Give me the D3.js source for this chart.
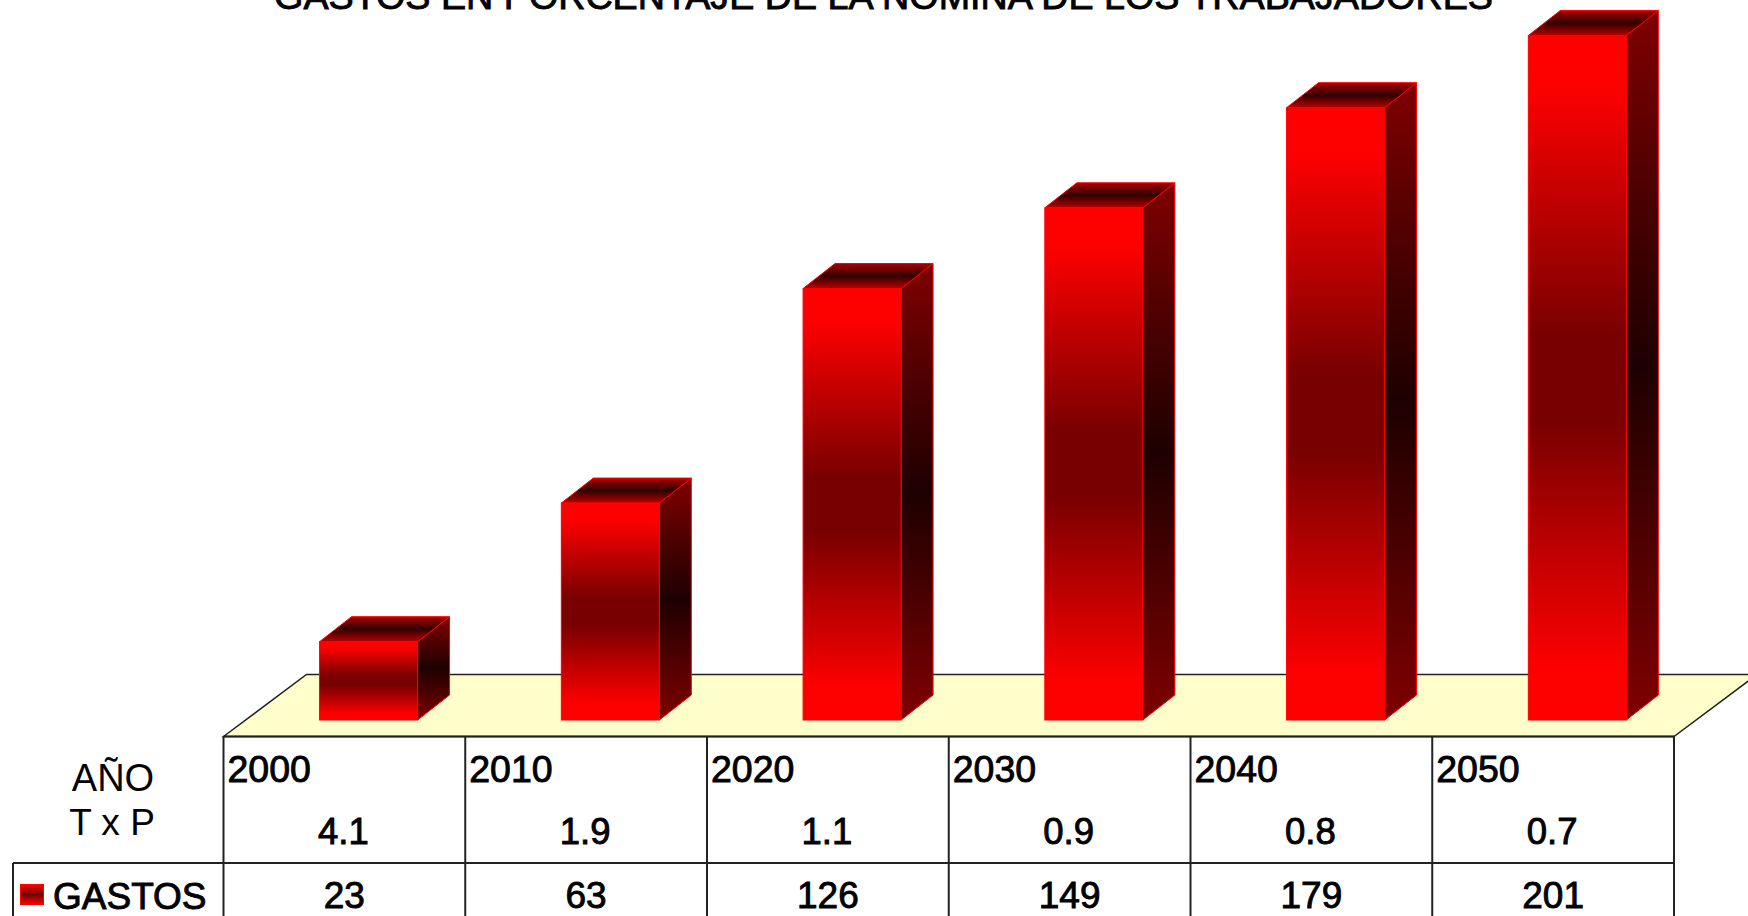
<!DOCTYPE html>
<html>
<head>
<meta charset="utf-8">
<script src="https://cdn.jsdelivr.net/npm/d3@7"></script>
<style>
  html, body { margin: 0; padding: 0; background: #fff; overflow: hidden; }
  text { font-family: "Liberation Sans", Arial, sans-serif; fill: #000; }
  .heavy { stroke: #000; stroke-width: 0.9; }
</style>
</head>
<body>
<div id="chart"></div>
<script>
const titleText = "GASTOS EN PORCENTAJE DE LA NOMINA DE LOS TRABAJADORES";
const years = ["2000", "2010", "2020", "2030", "2040", "2050"];
const txp = ["4.1", "1.9", "1.1", "0.9", "0.8", "0.7"];
const gastos = [23, 63, 126, 149, 179, 201];
// heights, they differ a little from the table
const barValues = [23, 63.7, 126.7, 150.4, 179.8, 201];

const width = 1748, height = 916;
const tableLeft = 223.5, tableRight = 1674, tableTop = 736.5, rowLine = 863, legendLeft = 13;
const floorDx = 83, floorDy = 62;
const barBase = 720, barDx = 32, barDy = 25, barOffset = 24.2, barWidth = 98;

const svg = d3.select("#chart").append("svg")
  .attr("width", width)
  .attr("height", height)
  .style("display", "block");

// Gradients
const defs = svg.append("defs");
function addGradient(id, stops) {
  const g = defs.append("linearGradient").attr("id", id)
    .attr("x1", 0).attr("y1", 0).attr("x2", 0).attr("y2", 1);
  stops.forEach((s) => g.append("stop").attr("offset", s[0]).attr("stop-color", s[1]));
}
addGradient("frontFill", [[0, "#ff0000"], [0.08, "#fc0000"], [0.44, "#780000"], [0.56, "#780000"], [0.92, "#fc0000"], [1, "#ff0000"]]);
addGradient("sideFill", [[0, "#800000"], [0.5, "#1e0000"], [1, "#800000"]]);
addGradient("topFill", [[0, "#a80000"], [0.5, "#300000"], [1, "#b80000"]]);
addGradient("legendFill", [[0, "#ff0000"], [0.5, "#700000"], [1, "#ff0000"]]);

// Scales
const x = d3.scaleBand().domain(years).range([tableLeft, tableRight]);
const y = d3.scaleLinear().domain([0, 201]).range([barBase, 35.5]);

// Floor
svg.append("path")
  .attr("d", d3.line()([
    [tableLeft, tableTop],
    [tableLeft + floorDx, tableTop - floorDy],
    [tableRight + floorDx, tableTop - floorDy],
    [tableRight, tableTop]
  ]) + "Z")
  .attr("fill", "#ffffcc")
  .attr("stroke", "#222")
  .attr("stroke-width", 1.5);

// Bars
const bars = svg.selectAll(".bar")
  .data(years.map((year, i) => ({ year, value: barValues[i] })))
  .join("g")
  .attr("class", "bar");

const faceLine = d3.line();
function barLeft(d) {
  return x(d.year) + x.bandwidth() / 2 + barOffset - barWidth / 2;
}

bars.append("path")
  .attr("fill", "url(#sideFill)")
  .attr("stroke", "#ff0000")
  .attr("d", (d) => {
    const r = barLeft(d) + barWidth;
    return faceLine([[r, barBase], [r, y(d.value)], [r + barDx, y(d.value) - barDy], [r + barDx, barBase - barDy]]) + "Z";
  });

bars.append("path")
  .attr("fill", "url(#topFill)")
  .attr("stroke", "#ff0000")
  .attr("d", (d) => {
    const l = barLeft(d), r = l + barWidth, t = y(d.value);
    return faceLine([[l, t], [l + barDx, t - barDy], [r + barDx, t - barDy], [r, t]]) + "Z";
  });

bars.append("rect")
  .attr("x", barLeft)
  .attr("y", (d) => y(d.value))
  .attr("width", barWidth)
  .attr("height", (d) => barBase - y(d.value))
  .attr("fill", "url(#frontFill)")
  .attr("stroke", "#ff0000");

// Title, the top of it is cut by the page edge like in the picture
svg.append("text")
  .attr("class", "heavy")
  .attr("x", 883.5)
  .attr("y", 9)
  .attr("text-anchor", "middle")
  .attr("font-size", 37.7)
  .text(titleText);

// Table lines
const tableLines = svg.append("g").attr("stroke", "#222").attr("stroke-width", 2);
tableLines.append("line").attr("x1", tableLeft).attr("x2", tableRight).attr("y1", tableTop).attr("y2", tableTop);
tableLines.append("line").attr("x1", legendLeft).attr("x2", tableRight).attr("y1", rowLine).attr("y2", rowLine);
tableLines.append("line").attr("x1", legendLeft).attr("x2", legendLeft).attr("y1", rowLine).attr("y2", height);
tableLines.selectAll(".col")
  .data(years.concat("end"))
  .join("line")
  .attr("class", "col")
  .attr("x1", (d, i) => (i < years.length ? x(d) : tableRight))
  .attr("x2", (d, i) => (i < years.length ? x(d) : tableRight))
  .attr("y1", tableTop)
  .attr("y2", height);

// Table text
svg.selectAll(".year")
  .data(years)
  .join("text")
  .attr("class", "year heavy")
  .attr("x", (d) => x(d) + 4)
  .attr("y", 782)
  .attr("font-size", 37.5)
  .text((d) => d);

svg.selectAll(".txp")
  .data(txp)
  .join("text")
  .attr("class", "txp heavy")
  .attr("x", (d, i) => x(years[i]) + x.bandwidth() / 2 - 1)
  .attr("y", 844)
  .attr("text-anchor", "middle")
  .attr("font-size", 36.5)
  .text((d) => d);

svg.selectAll(".gasto")
  .data(gastos)
  .join("text")
  .attr("class", "gasto heavy")
  .attr("x", (d, i) => x(years[i]) + x.bandwidth() / 2)
  .attr("y", 907.5)
  .attr("text-anchor", "middle")
  .attr("font-size", 37)
  .text((d) => d);

// Row headers
svg.append("text").attr("x", 113).attr("y", 791).attr("text-anchor", "middle").attr("font-size", 38).text("AÑO");
svg.append("text").attr("x", 112).attr("y", 835).attr("text-anchor", "middle").attr("font-size", 37).text("T x P");

// Legend
svg.append("rect")
  .attr("x", 20.5).attr("y", 884.5).attr("width", 23).attr("height", 20)
  .attr("fill", "url(#legendFill)")
  .attr("stroke", "#ff0000");
svg.append("text")
  .attr("class", "heavy")
  .attr("x", 53).attr("y", 908.5)
  .attr("font-size", 37)
  .text("GASTOS");
</script>
</body>
</html>
